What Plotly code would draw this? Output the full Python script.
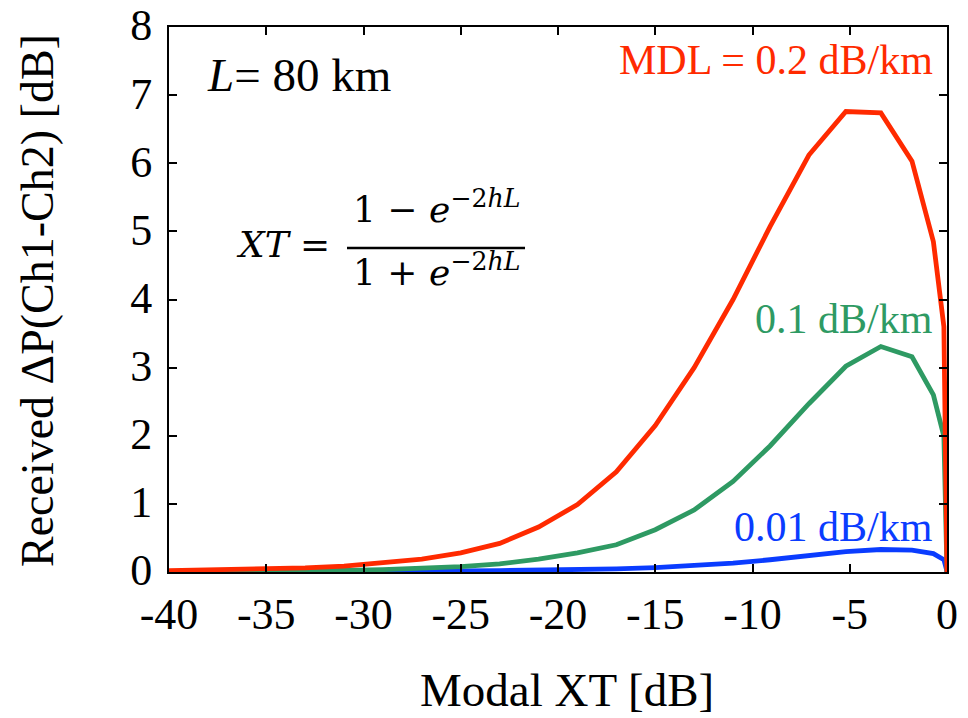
import plotly.graph_objects as go

# Modal XT [dB] sample positions
xt_db = [-40, -39, -37, -35, -33, -31, -29, -27, -25, -23, -21, -19, -17, -15,
         -13, -11, -9.1, -7.1, -5.2, -3.4, -1.8, -0.7, -0.16, -0.02, 0]

# Received delta P [dB] for each MDL
dp_mdl_02 = [0.02, 0.025, 0.03, 0.045, 0.06, 0.085, 0.13, 0.19, 0.28, 0.42, 0.66,
             0.99, 1.47, 2.15, 3.0, 4.0, 5.07, 6.12, 6.76, 6.74, 6.03, 4.85, 3.6,
             0.45, 0.0]
dp_mdl_01 = [0.005, 0.006, 0.008, 0.012, 0.017, 0.025, 0.035, 0.055, 0.08, 0.12,
             0.19, 0.28, 0.40, 0.62, 0.91, 1.33, 1.85, 2.47, 3.02, 3.31, 3.16,
             2.60, 1.99, 0.25, 0.0]
dp_mdl_001 = [0.0, 0.0, 0.001, 0.002, 0.003, 0.005, 0.008, 0.012, 0.016, 0.02,
              0.025, 0.03, 0.045, 0.065, 0.09, 0.13, 0.18, 0.24, 0.30, 0.33, 0.32,
              0.27, 0.18, 0.03, 0.0]

series_names = ["MDL = 0.2 dB/km", "0.1 dB/km", "0.01 dB/km"]
series_vals = [dp_mdl_02, dp_mdl_01, dp_mdl_001]
series_colors = ["#FF2A00", "#2E9A63", "#0A3CFF"]

x_ticks = [-40, -35, -30, -25, -20, -15, -10, -5, 0]
y_ticks = [0, 1, 2, 3, 4, 5, 6, 7, 8]

FONT = "Liberation Serif"
MATH_FONT = "DejaVu Serif"

fig = go.Figure()
# draw in order blue, green, red so red is on top
for name, vals, col in reversed(list(zip(series_names, series_vals, series_colors))):
    fig.add_trace(go.Scatter(x=xt_db, y=vals, mode="lines", name=name,
                             line=dict(color=col, width=4.8), showlegend=False))

axis_common = dict(showline=True, mirror="ticks", linecolor="black", linewidth=2,
                   ticks="inside", ticklen=8, tickwidth=1.5, tickcolor="black",
                   showgrid=False, zeroline=False, ticklabeloverflow="allow",
                   automargin=False,
                   tickfont=dict(family=FONT, size=44, color="black"))

fig.update_xaxes(range=[-40, 0], tickvals=x_ticks, ticktext=[str(v) for v in x_ticks],
                 ticklabelstandoff=2, **axis_common)
fig.update_yaxes(range=[0, 8], tickvals=y_ticks, ticktext=[str(v) for v in y_ticks],
                 ticklabelstandoff=6, ticklabelshift=-2, **axis_common)

annotations = [
    dict(text="Received ΔP(Ch1-Ch2) [dB]", x=-0.1697, y=0.499, textangle=-90,
         font=dict(size=46, family=FONT)),
    dict(text="Modal XT [dB]", x=0.5116, y=-0.2163, font=dict(size=47, family=FONT)),
    dict(text="<i>L</i>= 80 km", x=0.0463, y=0.9120, xanchor="left",
         font=dict(size=47, family=FONT)),
    dict(text=series_names[0], x=0.984, y=0.9394, xanchor="right",
         font=dict(size=42, family=FONT, color=series_colors[0])),
    dict(text=series_names[1], x=0.984, y=0.4643, xanchor="right",
         font=dict(size=42, family=FONT, color=series_colors[1])),
    dict(text=series_names[2], x=0.984, y=0.0826, xanchor="right",
         font=dict(size=42, family=FONT, color=series_colors[2])),
    dict(text="<i>XT</i> =", x=0.2095, y=0.6018, xanchor="right",
         font=dict(size=36, family=MATH_FONT)),
    dict(text="1 − <i>e</i><sup>−2<i>hL</i></sup>", x=0.3432, y=0.669,
         font=dict(size=36, family=MATH_FONT)),
    dict(text="1 + <i>e</i><sup>−2<i>hL</i></sup>", x=0.3432, y=0.555,
         font=dict(size=36, family=MATH_FONT)),
]
for a in annotations:
    a.setdefault("xanchor", "center")
    a.update(xref="paper", yref="paper", yanchor="middle", showarrow=False)
    a["font"].setdefault("color", "black")
    fig.add_annotation(**a)

fig.add_shape(type="line", xref="paper", yref="paper", x0=0.2288, x1=0.4576,
              y0=0.5945, y1=0.5945, line=dict(color="black", width=2.5))

fig.update_layout(width=968, height=718, margin=dict(l=169, r=21, t=27, b=146),
                  plot_bgcolor="white", paper_bgcolor="white",
                  font=dict(family=FONT, color="black"))

fig.write_html("out.html", config={"displayModeBar": False},
               post_script="document.body.style.margin='0';document.body.style.padding='0';")
